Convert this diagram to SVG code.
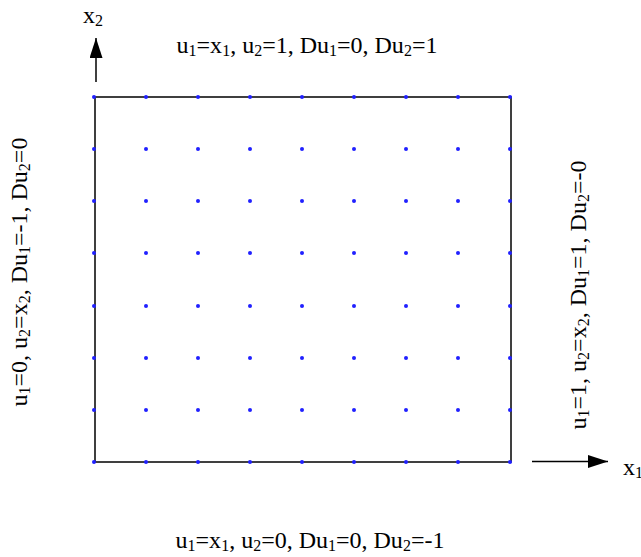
<svg xmlns="http://www.w3.org/2000/svg" width="641" height="557" viewBox="0 0 641 557">
<defs>
<style>
text{font-family:"Liberation Serif","Times New Roman",serif;font-size:24px;fill:#000}
.sub{font-size:16px}
.frame{stroke:#000;stroke-width:1.5;fill:none}
.axis{stroke:#000;stroke-width:1.5;fill:none}
.dot{fill:#2020ff}
</style>
<marker id="ah" markerWidth="20" markerHeight="13" refX="20" refY="6.5" orient="auto" markerUnits="userSpaceOnUse">
<path d="M0,0 L20,6.5 L0,13 Z" fill="#000"/>
</marker>
</defs>
<rect width="641" height="557" fill="#fff"/>
<g id="frame"><rect class="frame" x="95" y="97" width="416" height="365"/></g>
<g id="connectors">
<line class="axis" x1="96" y1="82" x2="96" y2="38" marker-end="url(#ah)"/>
<line class="axis" x1="532" y1="461.5" x2="608" y2="461.5" marker-end="url(#ah)"/>
</g>
<g id="dots">
<g id="row0"><circle class="dot" cx="94" cy="97" r="2"/><circle class="dot" cx="146" cy="97" r="2"/><circle class="dot" cx="198" cy="97" r="2"/><circle class="dot" cx="250" cy="97" r="2"/><circle class="dot" cx="302" cy="97" r="2"/><circle class="dot" cx="354" cy="97" r="2"/><circle class="dot" cx="406" cy="97" r="2"/><circle class="dot" cx="458" cy="97" r="2"/><circle class="dot" cx="510" cy="97" r="2"/></g>
<g id="row1"><circle class="dot" cx="94" cy="149" r="2"/><circle class="dot" cx="146" cy="149" r="2"/><circle class="dot" cx="198" cy="149" r="2"/><circle class="dot" cx="250" cy="149" r="2"/><circle class="dot" cx="302" cy="149" r="2"/><circle class="dot" cx="354" cy="149" r="2"/><circle class="dot" cx="406" cy="149" r="2"/><circle class="dot" cx="458" cy="149" r="2"/><circle class="dot" cx="510" cy="149" r="2"/></g>
<g id="row2"><circle class="dot" cx="94" cy="201" r="2"/><circle class="dot" cx="146" cy="201" r="2"/><circle class="dot" cx="198" cy="201" r="2"/><circle class="dot" cx="250" cy="201" r="2"/><circle class="dot" cx="302" cy="201" r="2"/><circle class="dot" cx="354" cy="201" r="2"/><circle class="dot" cx="406" cy="201" r="2"/><circle class="dot" cx="458" cy="201" r="2"/><circle class="dot" cx="510" cy="201" r="2"/></g>
<g id="row3"><circle class="dot" cx="94" cy="253" r="2"/><circle class="dot" cx="146" cy="253" r="2"/><circle class="dot" cx="198" cy="253" r="2"/><circle class="dot" cx="250" cy="253" r="2"/><circle class="dot" cx="302" cy="253" r="2"/><circle class="dot" cx="354" cy="253" r="2"/><circle class="dot" cx="406" cy="253" r="2"/><circle class="dot" cx="458" cy="253" r="2"/><circle class="dot" cx="510" cy="253" r="2"/></g>
<g id="row4"><circle class="dot" cx="94" cy="306" r="2"/><circle class="dot" cx="146" cy="306" r="2"/><circle class="dot" cx="198" cy="306" r="2"/><circle class="dot" cx="250" cy="306" r="2"/><circle class="dot" cx="302" cy="306" r="2"/><circle class="dot" cx="354" cy="306" r="2"/><circle class="dot" cx="406" cy="306" r="2"/><circle class="dot" cx="458" cy="306" r="2"/><circle class="dot" cx="510" cy="306" r="2"/></g>
<g id="row5"><circle class="dot" cx="94" cy="358" r="2"/><circle class="dot" cx="146" cy="358" r="2"/><circle class="dot" cx="198" cy="358" r="2"/><circle class="dot" cx="250" cy="358" r="2"/><circle class="dot" cx="302" cy="358" r="2"/><circle class="dot" cx="354" cy="358" r="2"/><circle class="dot" cx="406" cy="358" r="2"/><circle class="dot" cx="458" cy="358" r="2"/><circle class="dot" cx="510" cy="358" r="2"/></g>
<g id="row6"><circle class="dot" cx="94" cy="410" r="2"/><circle class="dot" cx="146" cy="410" r="2"/><circle class="dot" cx="198" cy="410" r="2"/><circle class="dot" cx="250" cy="410" r="2"/><circle class="dot" cx="302" cy="410" r="2"/><circle class="dot" cx="354" cy="410" r="2"/><circle class="dot" cx="406" cy="410" r="2"/><circle class="dot" cx="458" cy="410" r="2"/><circle class="dot" cx="510" cy="410" r="2"/></g>
<g id="row7"><circle class="dot" cx="94" cy="462" r="2"/><circle class="dot" cx="146" cy="462" r="2"/><circle class="dot" cx="198" cy="462" r="2"/><circle class="dot" cx="250" cy="462" r="2"/><circle class="dot" cx="302" cy="462" r="2"/><circle class="dot" cx="354" cy="462" r="2"/><circle class="dot" cx="406" cy="462" r="2"/><circle class="dot" cx="458" cy="462" r="2"/><circle class="dot" cx="510" cy="462" r="2"/></g>
</g>
<g id="labels">
<text x="83" y="23">x<tspan class="sub" dy="3">2</tspan></text>
<text x="623" y="475">x<tspan class="sub" dy="3">1</tspan></text>
<text x="307" y="53" text-anchor="middle">u<tspan class="sub" dy="3">1</tspan><tspan dy="-3">=x</tspan><tspan class="sub" dy="3">1</tspan><tspan dy="-3">, u</tspan><tspan class="sub" dy="3">2</tspan><tspan dy="-3">=1, Du</tspan><tspan class="sub" dy="3">1</tspan><tspan dy="-3">=0, Du</tspan><tspan class="sub" dy="3">2</tspan><tspan dy="-3">=1</tspan></text>
<text x="310" y="548" text-anchor="middle">u<tspan class="sub" dy="3">1</tspan><tspan dy="-3">=x</tspan><tspan class="sub" dy="3">1</tspan><tspan dy="-3">, u</tspan><tspan class="sub" dy="3">2</tspan><tspan dy="-3">=0, Du</tspan><tspan class="sub" dy="3">1</tspan><tspan dy="-3">=0, Du</tspan><tspan class="sub" dy="3">2</tspan><tspan dy="-3">=-1</tspan></text>
<text transform="translate(27,272) rotate(-90)" text-anchor="middle">u<tspan class="sub" dy="3">1</tspan><tspan dy="-3">=0, u</tspan><tspan class="sub" dy="3">2</tspan><tspan dy="-3">=x</tspan><tspan class="sub" dy="3">2</tspan><tspan dy="-3">, Du</tspan><tspan class="sub" dy="3">1</tspan><tspan dy="-3">=-1, Du</tspan><tspan class="sub" dy="3">2</tspan><tspan dy="-3">=0</tspan></text>
<text transform="translate(586,295) rotate(-90)" text-anchor="middle">u<tspan class="sub" dy="3">1</tspan><tspan dy="-3">=1, u</tspan><tspan class="sub" dy="3">2</tspan><tspan dy="-3">=x</tspan><tspan class="sub" dy="3">2</tspan><tspan dy="-3">, Du</tspan><tspan class="sub" dy="3">1</tspan><tspan dy="-3">=1, Du</tspan><tspan class="sub" dy="3">2</tspan><tspan dy="-3">=-0</tspan></text>
</g>
</svg>
